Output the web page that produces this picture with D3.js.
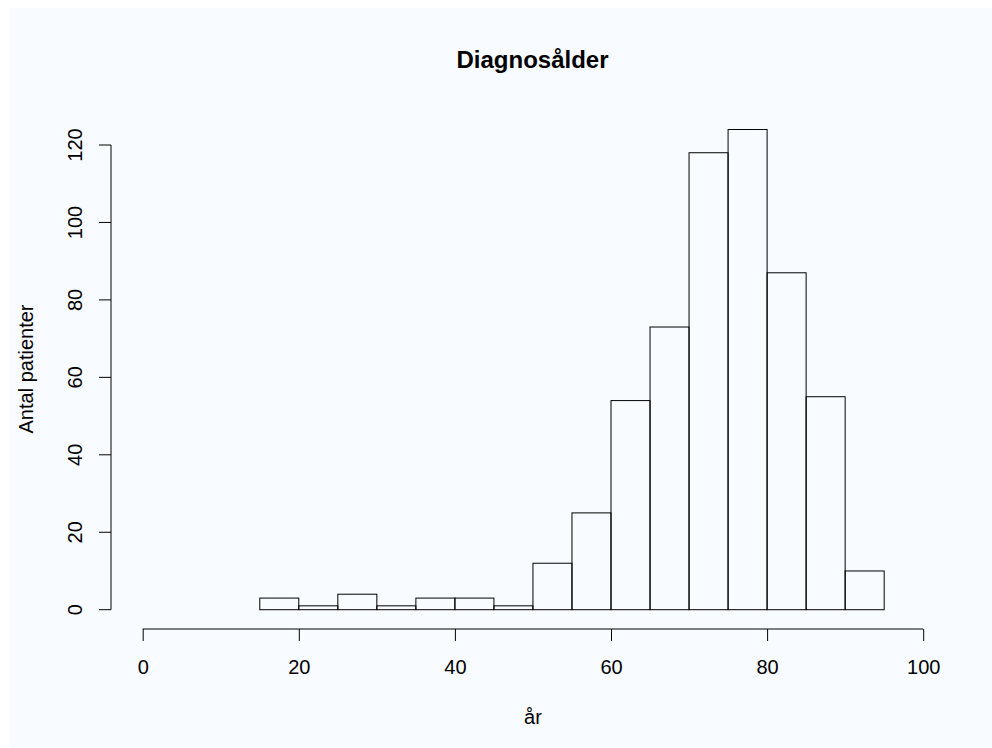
<!DOCTYPE html>
<html>
<head>
<meta charset="utf-8">
<script src="https://cdn.jsdelivr.net/npm/d3@7"></script>
<style>
  body { margin: 0; background: #ffffff; }
  text { font-family: "Liberation Sans", Arial, sans-serif; fill: #000; }
</style>
</head>
<body>
<script>
// histogram bins (age, 5 year steps) and counts
var binStarts = [15, 20, 25, 30, 35, 40, 45, 50, 55, 60, 65, 70, 75, 80, 85, 90];
var counts = [3, 1, 4, 1, 3, 3, 1, 12, 25, 54, 73, 118, 124, 87, 55, 10];
var binWidth = 5;
var xTicks = [0, 20, 40, 60, 80, 100];
var yTicks = [0, 20, 40, 60, 80, 100, 120];

var width = 992, height = 748;
var fontSize = 20;

var svg = d3.select("body").append("svg")
    .attr("width", width)
    .attr("height", height);

// light panel behind the plot
svg.append("rect")
    .attr("x", 9).attr("y", 8)
    .attr("width", width - 9).attr("height", height - 8)
    .attr("fill", "#f8fbff");

var x = d3.scaleLinear().domain([0, 100]).range([142.7, 923.2]);
var y = d3.scaleLinear().domain([0, 120]).range([609.7, 145]);

// bars
svg.append("g").selectAll("rect")
    .data(binStarts)
    .enter()
    .append("rect")
    .attr("x", function(d) { return x(d); })
    .attr("y", function(d, i) { return y(counts[i]); })
    .attr("width", function(d) { return x(d + binWidth) - x(d); })
    .attr("height", function(d, i) { return y(0) - y(counts[i]); })
    .attr("fill", "none")
    .attr("stroke", "#000")
    .attr("stroke-width", 1);

// x axis
var xAxis = d3.axisBottom(x).tickValues(xTicks).tickSize(12);
var gx = svg.append("g").attr("transform", "translate(0,629)").call(xAxis);
gx.select(".domain").attr("d", "M" + x(0) + ",0H" + x(100)).attr("stroke", "#000");
gx.selectAll("text")
    .attr("font-size", fontSize)
    .attr("font-family", "Liberation Sans, Arial, sans-serif")
    .attr("dy", null)
    .attr("y", 45);

// y axis
var yAxis = d3.axisLeft(y).tickValues(yTicks).tickSize(12);
var gy = svg.append("g").attr("transform", "translate(111,0)").call(yAxis);
gy.select(".domain").attr("d", "M0," + y(0) + "V" + y(120)).attr("stroke", "#000");
gy.selectAll(".tick").attr("transform", null);
gy.selectAll(".tick line").attr("transform", function(d) { return "translate(0," + y(d) + ")"; });
gy.selectAll("text")
    .attr("font-size", fontSize)
    .attr("font-family", "Liberation Sans, Arial, sans-serif")
    .attr("x", 0).attr("y", 0).attr("dy", "0.36em")
    .attr("text-anchor", "middle")
    .attr("transform", function(d) { return "translate(-36.5," + y(d) + ") rotate(-90)"; });

// title and labels
svg.append("text")
    .attr("x", 532.5).attr("y", 68)
    .attr("text-anchor", "middle")
    .attr("font-size", 24).attr("font-weight", "bold")
    .text("Diagnosålder");

svg.append("text")
    .attr("x", 533).attr("y", 724)
    .attr("text-anchor", "middle")
    .attr("font-size", fontSize)
    .text("år");

svg.append("text")
    .attr("transform", "translate(33,369) rotate(-90)")
    .attr("text-anchor", "middle")
    .attr("font-size", fontSize)
    .text("Antal patienter");
</script>
</body>
</html>
